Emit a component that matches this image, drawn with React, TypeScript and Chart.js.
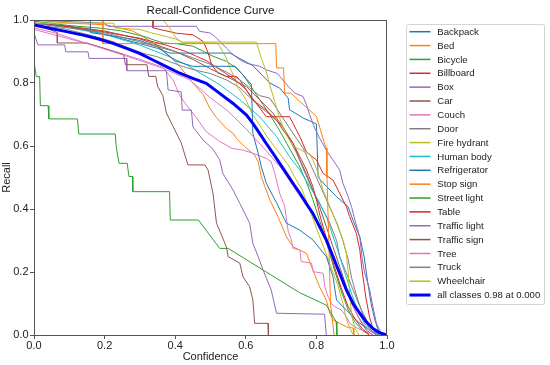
import React, { useEffect, useRef } from "react";
import { Chart, registerables } from "chart.js";

Chart.register(...registerables);

type P = [number, number];

const classNames = [
  "Backpack", "Bed", "Bicycle", "Billboard", "Box", "Car", "Couch", "Door", "Fire hydrant",
  "Human body", "Refrigerator", "Stop sign", "Street light", "Table", "Traffic light",
  "Traffic sign", "Tree", "Truck", "Wheelchair",
];
const palette = ["#1f77b4", "#ff7f0e", "#2ca02c", "#d62728", "#9467bd", "#8c564b", "#e377c2", "#7f7f7f", "#bcbd22", "#17becf"];
const meanLabel = "all classes 0.98 at 0.000";
const xTicks = [0, 0.2, 0.4, 0.6, 0.8, 1.0];

const backpack: P[] = [[0,0.99],[0.1,0.98],[0.2,0.955],[0.3,0.925],[0.35,0.91],[0.385,0.895],[0.555,0.895],[0.62,0.855],[0.668,0.8],[0.696,0.784],[0.72,0.752],[0.724,0.715],[0.748,0.699],[0.762,0.689],[0.8,0.67],[0.805,0.5],[0.83,0.47],[0.857,0.439],[0.89,0.407],[0.905,0.36],[0.923,0.312],[0.935,0.25],[0.945,0.17],[0.955,0.1],[0.965,0.05],[0.975,0.015],[0.985,0]];
const bed: P[] = [[0,1.0],[0.1,0.99],[0.2,0.985],[0.28,0.965],[0.32,0.94],[0.36,0.91],[0.39,0.88],[0.413,0.852],[0.45,0.8],[0.479,0.763],[0.498,0.72],[0.517,0.69],[0.545,0.656],[0.564,0.64],[0.573,0.624],[0.597,0.598],[0.625,0.571],[0.635,0.55],[0.644,0.503],[0.654,0.471],[0.668,0.429],[0.691,0.376],[0.715,0.312],[0.734,0.28],[0.772,0.259],[0.79,0.206],[0.809,0.153],[0.828,0.111],[0.838,0.069],[0.847,0.048],[0.866,0.037],[0.885,0.026],[0.904,0.022],[0.906,0]];
const bicycle: P[] = [[0,0.996],[0.047,0.99],[0.094,0.983],[0.188,0.974],[0.245,0.966],[0.311,0.948],[0.339,0.937],[0.367,0.927],[0.403,0.925],[0.45,0.917],[0.479,0.901],[0.507,0.885],[0.545,0.869],[0.573,0.848],[0.592,0.826],[0.611,0.795],[0.63,0.763],[0.649,0.731],[0.668,0.699],[0.69,0.66],[0.71,0.62],[0.73,0.58],[0.75,0.54],[0.77,0.49],[0.79,0.43],[0.81,0.36],[0.83,0.29],[0.85,0.21],[0.87,0.14],[0.89,0.08],[0.91,0.04],[0.93,0.015],[0.95,0]];
const billboard: P[] = [[0,1.0],[0.337,1.0],[0.337,0.975],[0.403,0.958],[0.45,0.953],[0.479,0.932],[0.488,0.911],[0.498,0.879],[0.503,0.858],[0.521,0.832],[0.545,0.821],[0.573,0.821],[0.583,0.81],[0.6,0.78],[0.62,0.75],[0.64,0.72],[0.658,0.693],[0.724,0.693],[0.753,0.63],[0.772,0.58],[0.8,0.556],[0.819,0.513],[0.847,0.492],[0.866,0.45],[0.885,0.407],[0.894,0.376],[0.913,0.323],[0.923,0.27],[0.93,0.2],[0.94,0.12],[0.95,0.06],[0.96,0.02],[0.975,0]];
const box: P[] = [[0,1.0],[0.2,0.99],[0.21,0.98],[0.46,0.98],[0.469,0.964],[0.498,0.959],[0.512,0.948],[0.545,0.911],[0.564,0.89],[0.583,0.874],[0.602,0.863],[0.62,0.858],[0.639,0.853],[0.658,0.842],[0.69,0.83],[0.705,0.81],[0.72,0.789],[0.739,0.768],[0.762,0.757],[0.772,0.731],[0.781,0.699],[0.795,0.657],[0.809,0.625],[0.828,0.587],[0.866,0.524],[0.875,0.482],[0.89,0.439],[0.9,0.405],[0.909,0.365],[0.923,0.31],[0.93,0.24],[0.937,0.196],[0.951,0.143],[0.96,0.09],[0.97,0.037],[0.979,0.016],[0.985,0]];
const car: P[] = [[0,0.99],[0.1,0.98],[0.2,0.965],[0.3,0.94],[0.4,0.9],[0.45,0.875],[0.5,0.845],[0.564,0.81],[0.602,0.788],[0.64,0.746],[0.677,0.704],[0.705,0.661],[0.734,0.608],[0.753,0.556],[0.771,0.513],[0.79,0.46],[0.809,0.407],[0.828,0.344],[0.847,0.28],[0.866,0.217],[0.885,0.153],[0.904,0.09],[0.923,0.048],[0.941,0.016],[0.96,0]];
const couch: P[] = [[0,0.97],[0.1,0.94],[0.2,0.91],[0.3,0.875],[0.365,0.85],[0.394,0.81],[0.413,0.76],[0.432,0.73],[0.46,0.69],[0.488,0.645],[0.507,0.63],[0.526,0.614],[0.545,0.603],[0.559,0.593],[0.592,0.587],[0.62,0.577],[0.658,0.561],[0.672,0.55],[0.682,0.513],[0.696,0.45],[0.71,0.41],[0.72,0.33],[0.729,0.302],[0.734,0.275],[0.753,0.27],[0.757,0.233],[0.786,0.228],[0.791,0.201],[0.819,0.196],[0.824,0.153],[0.833,0.122],[0.842,0.1],[0.852,0.09],[0.871,0.079],[0.885,0.058],[0.894,0.037],[0.908,0.026],[0.927,0.016],[0.95,0.006],[0.96,0]];
const door: P[] = [[0,0.985],[0.082,0.973],[0.158,0.952],[0.224,0.931],[0.271,0.91],[0.309,0.894],[0.347,0.884],[0.384,0.868],[0.422,0.852],[0.46,0.84],[0.5,0.83],[0.545,0.81],[0.583,0.785],[0.611,0.755],[0.639,0.725],[0.668,0.7],[0.687,0.68],[0.705,0.66],[0.724,0.62],[0.743,0.58],[0.762,0.53],[0.781,0.48],[0.8,0.435],[0.819,0.397],[0.838,0.355],[0.857,0.3],[0.866,0.249],[0.885,0.196],[0.904,0.143],[0.923,0.09],[0.942,0.048],[0.96,0.016],[0.975,0]];
const fireHydrant: P[] = [[0,1.0],[0.366,1.0],[0.384,0.975],[0.403,0.943],[0.422,0.927],[0.517,0.927],[0.526,0.917],[0.545,0.879],[0.555,0.848],[0.569,0.816],[0.578,0.784],[0.592,0.763],[0.602,0.742],[0.611,0.72],[0.62,0.699],[0.64,0.665],[0.66,0.63],[0.68,0.6],[0.7,0.57],[0.72,0.54],[0.739,0.5],[0.76,0.46],[0.78,0.4],[0.8,0.34],[0.82,0.28],[0.84,0.22],[0.86,0.16],[0.875,0.1],[0.885,0.05],[0.895,0.02],[0.905,0]];
const humanBody: P[] = [[0,0.99],[0.1,0.975],[0.2,0.955],[0.3,0.92],[0.38,0.885],[0.432,0.858],[0.479,0.826],[0.526,0.795],[0.583,0.747],[0.639,0.693],[0.687,0.63],[0.724,0.566],[0.753,0.524],[0.781,0.471],[0.805,0.429],[0.83,0.37],[0.86,0.27],[0.88,0.2],[0.9,0.13],[0.92,0.07],[0.94,0.03],[0.96,0.01],[0.98,0]];
const refrigerator: P[] = [[0,1.0],[0.16,1.0],[0.16,0.96],[0.25,0.945],[0.3,0.935],[0.35,0.915],[0.4,0.87],[0.45,0.853],[0.57,0.853],[0.616,0.795],[0.62,0.64],[0.635,0.577],[0.644,0.534],[0.658,0.482],[0.668,0.46],[0.687,0.42],[0.715,0.355],[0.753,0.333],[0.79,0.302],[0.828,0.249],[0.847,0.185],[0.857,0.111],[0.875,0.09],[0.894,0.069],[0.92,0.04],[0.95,0.015],[0.97,0]];
const stopSign: P[] = [[0,1.0],[0.195,1.0],[0.195,0.925],[0.685,0.925],[0.687,0.848],[0.707,0.848],[0.71,0.768],[0.727,0.768],[0.8,0.694],[0.81,0.657],[0.824,0.604],[0.828,0.594],[0.83,0.5],[0.835,0.3],[0.84,0.1],[0.85,0]];
const streetLight: P[] = [[0,0.866],[0.0066,0.82],[0.016,0.82],[0.018,0.728],[0.04,0.728],[0.042,0.686],[0.123,0.686],[0.127,0.638],[0.23,0.638],[0.233,0.598],[0.241,0.545],[0.264,0.545],[0.269,0.503],[0.279,0.503],[0.28,0.455],[0.384,0.455],[0.386,0.365],[0.466,0.365],[0.526,0.275],[0.55,0.275],[0.753,0.134],[0.828,0.095],[0.856,0.042],[0.858,0]];
const table: P[] = [[0,0.99],[0.1,0.978],[0.2,0.962],[0.3,0.942],[0.375,0.92],[0.43,0.9],[0.49,0.87],[0.53,0.84],[0.57,0.81],[0.6,0.78],[0.62,0.746],[0.658,0.714],[0.687,0.683],[0.705,0.651],[0.734,0.609],[0.753,0.566],[0.772,0.524],[0.79,0.471],[0.8,0.429],[0.81,0.38],[0.83,0.3],[0.85,0.22],[0.87,0.15],[0.89,0.09],[0.91,0.05],[0.93,0.02],[0.95,0]];
const trafficLight: P[] = [[0,0.958],[0.011,0.921],[0.087,0.921],[0.09,0.899],[0.153,0.899],[0.156,0.878],[0.262,0.878],[0.263,0.839],[0.375,0.839],[0.38,0.778],[0.417,0.772],[0.42,0.714],[0.446,0.714],[0.45,0.661],[0.479,0.619],[0.507,0.59],[0.526,0.556],[0.535,0.513],[0.564,0.46],[0.583,0.418],[0.611,0.355],[0.62,0.291],[0.635,0.249],[0.649,0.206],[0.672,0.143],[0.687,0.069],[0.823,0.066],[0.828,0]];
const trafficSign: P[] = [[0,0.99],[0.066,0.96],[0.066,0.927],[0.15,0.927],[0.254,0.89],[0.259,0.858],[0.32,0.858],[0.325,0.821],[0.345,0.821],[0.35,0.79],[0.365,0.76],[0.375,0.705],[0.393,0.664],[0.417,0.61],[0.436,0.54],[0.484,0.54],[0.493,0.524],[0.507,0.45],[0.517,0.355],[0.545,0.28],[0.55,0.249],[0.583,0.228],[0.592,0.185],[0.611,0.153],[0.62,0.111],[0.625,0.037],[0.663,0.037],[0.664,0]];
const tree: P[] = [[0,0.975],[0.063,0.958],[0.148,0.926],[0.252,0.889],[0.365,0.847],[0.441,0.81],[0.498,0.755],[0.55,0.71],[0.6,0.655],[0.65,0.595],[0.7,0.53],[0.724,0.49],[0.75,0.445],[0.781,0.4],[0.8,0.36],[0.83,0.29],[0.85,0.23],[0.88,0.15],[0.9,0.1],[0.92,0.055],[0.94,0.025],[0.96,0.008],[0.975,0]];
const truck: P[] = [[0,0.99],[0.1,0.975],[0.2,0.96],[0.3,0.93],[0.4,0.9],[0.45,0.88],[0.498,0.86],[0.545,0.835],[0.583,0.81],[0.611,0.785],[0.639,0.76],[0.668,0.752],[0.687,0.72],[0.705,0.689],[0.724,0.657],[0.743,0.625],[0.762,0.594],[0.78,0.55],[0.8,0.5],[0.82,0.45],[0.84,0.4],[0.86,0.35],[0.875,0.3],[0.89,0.24],[0.9,0.18],[0.915,0.12],[0.93,0.07],[0.945,0.03],[0.96,0.01],[0.975,0]];
const wheelchair: P[] = [[0,0.99],[0.226,0.99],[0.23,0.975],[0.3,0.97],[0.33,0.96],[0.4,0.94],[0.42,0.93],[0.63,0.93],[0.644,0.878],[0.658,0.836],[0.668,0.794],[0.682,0.741],[0.696,0.688],[0.715,0.635],[0.734,0.6],[0.76,0.585],[0.781,0.575],[0.79,0.556],[0.805,0.513],[0.819,0.46],[0.838,0.407],[0.857,0.355],[0.875,0.302],[0.885,0.259],[0.89,0.2],[0.895,0.12],[0.9,0.06],[0.91,0.02],[0.92,0]];
const allClasses: P[] = [[0,0.984],[0.044,0.974],[0.092,0.963],[0.139,0.952],[0.186,0.939],[0.224,0.926],[0.262,0.91],[0.299,0.894],[0.337,0.873],[0.375,0.852],[0.413,0.831],[0.45,0.815],[0.488,0.799],[0.526,0.767],[0.564,0.735],[0.602,0.698],[0.62,0.672],[0.639,0.64],[0.658,0.608],[0.677,0.577],[0.696,0.545],[0.715,0.513],[0.734,0.481],[0.753,0.45],[0.771,0.418],[0.79,0.386],[0.809,0.344],[0.828,0.302],[0.847,0.249],[0.866,0.196],[0.885,0.143],[0.904,0.1],[0.923,0.069],[0.941,0.042],[0.96,0.021],[0.979,0.007],[1.0,0]];

const classSeries: P[][] = [backpack, bed, bicycle, billboard, box, car, couch, door, fireHydrant, humanBody, refrigerator, stopSign, streetLight, table, trafficLight, trafficSign, tree, truck, wheelchair];

const FONT = "'Liberation Sans', Arial, sans-serif";

const decorPlugin = {
  id: "decor",
  afterDraw(chart: any) {
    const { ctx, chartArea } = chart;
    ctx.save();
    // frame
    ctx.strokeStyle = "#555";
    ctx.lineWidth = 1;
    ctx.strokeRect(chartArea.left + 0.5, chartArea.top + 0.5, chartArea.right - chartArea.left - 1, chartArea.bottom - chartArea.top);
    // title
    ctx.fillStyle = "#111";
    ctx.font = `11.5px ${FONT}`;
    ctx.textAlign = "center";
    ctx.textBaseline = "middle";
    ctx.fillText("Recall-Confidence Curve", (chartArea.left + chartArea.right) / 2, 10.5);
    // legend
    const lx = 406.5, ly = 24.5, lw = 138, lh = 280;
    ctx.fillStyle = "rgba(255,255,255,0.9)";
    ctx.strokeStyle = "#d4d4d4";
    ctx.beginPath();
    if ((ctx as any).roundRect) (ctx as any).roundRect(lx, ly, lw, lh, 2); else ctx.rect(lx, ly, lw, lh);
    ctx.fill();
    ctx.stroke();
    const labels = [...classNames, meanLabel];
    ctx.font = `9.6px ${FONT}`;
    ctx.textAlign = "left";
    labels.forEach((lab, i) => {
      const y = 31.7 + i * 13.86;
      const isMean = i === classNames.length;
      ctx.strokeStyle = isMean ? "#0000ff" : palette[i % 10];
      ctx.lineWidth = isMean ? 3 : 1.5;
      ctx.beginPath();
      ctx.moveTo(409.5, y);
      ctx.lineTo(430.5, y);
      ctx.stroke();
      ctx.fillStyle = "#222";
      ctx.fillText(lab, 437.3, y + 0.5);
    });
    ctx.restore();
  },
};

export default function App() {
  const ref = useRef<HTMLCanvasElement>(null);
  useEffect(() => {
    document.body.style.margin = "0";
    const canvas = ref.current!;
    const datasets: any[] = classSeries.map((s, i) => ({
      label: classNames[i],
      data: s.map(([x, y]) => ({ x, y })),
      borderColor: palette[i % 10],
      backgroundColor: palette[i % 10],
      borderWidth: 1,
      pointRadius: 0,
      tension: 0,
      fill: false,
      order: 100 - i,
    }));
    datasets.push({
      label: meanLabel,
      data: allClasses.map(([x, y]) => ({ x, y })),
      borderColor: "#0000ff",
      backgroundColor: "#0000ff",
      borderWidth: 3,
      pointRadius: 0,
      tension: 0,
      fill: false,
      order: 0,
    });
    const chart = new Chart(canvas, {
      type: "line",
      data: { datasets },
      plugins: [decorPlugin],
      options: {
        animation: false,
        responsive: false,
        maintainAspectRatio: false,
        layout: { padding: { top: 20, right: 163, left: 0, bottom: 0 } },
        plugins: { legend: { display: false }, tooltip: { enabled: false }, title: { display: false } },
        scales: {
          x: {
            type: "linear",
            min: 0,
            max: 1,
            afterFit: (s: any) => { s.height = 30; },
            afterBuildTicks: (s: any) => { s.ticks = xTicks.map((v) => ({ value: v })); },
            grid: { drawOnChartArea: false, drawTicks: true, tickLength: 4, color: "#555" },
            border: { display: true, color: "#555" },
            ticks: { color: "#222", font: { family: FONT, size: 11 }, padding: 0, maxRotation: 0, callback: (v: any) => Number(v).toFixed(1) },
            title: { display: true, text: "Confidence", color: "#222", font: { family: FONT, size: 11 }, padding: { top: 0, bottom: 1.5 } },
          },
          y: {
            type: "linear",
            min: 0,
            max: 1,
            afterFit: (s: any) => { s.width = 34; },
            afterBuildTicks: (s: any) => { s.ticks = xTicks.map((v) => ({ value: v })); },
            grid: { drawOnChartArea: false, drawTicks: true, tickLength: 4, color: "#555" },
            border: { display: true, color: "#555" },
            ticks: { color: "#222", font: { family: FONT, size: 11 }, padding: 1.5, callback: (v: any) => Number(v).toFixed(1) },
            title: { display: true, text: "Recall", color: "#222", font: { family: FONT, size: 11 }, padding: { top: 0, bottom: 0 } },
          },
        },
      },
    });
    return () => chart.destroy();
  }, []);
  return (
    <div style={{ width: 550, height: 365, background: "#fff" }}>
      <canvas ref={ref} width={550} height={365} style={{ display: "block" }} />
    </div>
  );
}
